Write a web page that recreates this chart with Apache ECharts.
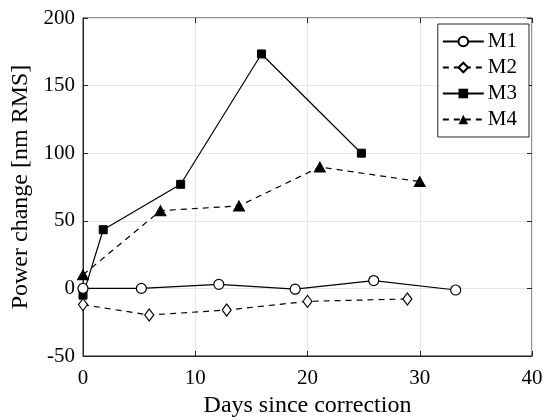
<!DOCTYPE html>
<html>
<head>
<meta charset="utf-8">
<script src="https://cdn.jsdelivr.net/npm/echarts@6/dist/echarts.min.js"></script>
<style>
  html, body { margin: 0; padding: 0; background: #fff; }
  #chart { width: 545px; height: 420px; }
</style>
</head>
<body>
<div id="chart"></div>
<script>
// 读图得到的数据 (days, nm RMS)
const m1Days = [0, 5.2, 12.1, 18.9, 25.9, 33.2];
const m1Vals = [0, 0, 3, -0.6, 5.8, -1.2];
const m2Days = [0, 5.9, 12.8, 20.0, 28.9];
const m2Vals = [-12, -19.7, -16, -9.6, -7.8];
const m3Days = [0, 1.8, 8.7, 15.9, 24.8];
const m3Vals = [-5, 43.4, 77, 173.4, 100];
const m4Days = [0, 6.9, 13.9, 21.1, 30.0];
const m4Vals = [10, 57.5, 61, 89.8, 79];

const xTicks = [0, 10, 20, 30, 40];
const yTicks = [-50, 0, 50, 100, 150, 200];

const FONT = 'Liberation Serif';
const INK = '#000';
const AXIS = '#262626';

function pairs(xs, ys) {
  return xs.map((x, i) => [x, ys[i]]);
}

const chart = echarts.init(document.getElementById('chart'));

// 通用坐标轴样式
const tickStyle = { show: true, inside: true, length: 5, lineStyle: { color: AXIS, width: 1 } };

const option = {
  animation: false,
  backgroundColor: '#fff',
  textStyle: { fontFamily: FONT },
  grid: {
    left: 83,
    right: 13,
    top: 18,
    bottom: 64,
    outerBoundsMode: 'none',
    show: true,
    borderColor: AXIS,
    borderWidth: 1,
    backgroundColor: '#fff',
  },
  legend: {
    right: 16,
    top: 24,
    orient: 'vertical',
    backgroundColor: '#fff',
    borderColor: AXIS,
    borderWidth: 1,
    borderRadius: 0,
    padding: [7, 12, 7, 4],
    itemGap: 5,
    itemWidth: 41,
    itemHeight: 12,
    textStyle: { fontFamily: FONT, fontSize: 21, color: INK, lineHeight: 21, padding: [0, 0, 0, -1] },
    data: ['M1', 'M2', 'M3', 'M4'],
  },
  xAxis: [
    {
      type: 'value',
      min: xTicks[0],
      max: xTicks[xTicks.length - 1],
      interval: 10,
      name: 'Days since correction',
      nameLocation: 'middle',
      nameGap: 37,
      nameTextStyle: { fontFamily: FONT, fontSize: 24, color: INK },
      axisLine: { show: true, onZero: false, lineStyle: { color: AXIS } },
      axisTick: tickStyle,
      axisLabel: { fontFamily: FONT, fontSize: 21, color: INK, margin: 12 },
      splitLine: { show: true, lineStyle: { color: '#e6e6e6', width: 1 } },
    },
    {
      type: 'value',
      position: 'top',
      min: xTicks[0],
      max: xTicks[xTicks.length - 1],
      interval: 10,
      axisLine: { show: false, onZero: false },
      axisTick: tickStyle,
      axisLabel: { show: false },
      splitLine: { show: false },
    },
  ],
  yAxis: [
    {
      type: 'value',
      min: yTicks[0],
      max: yTicks[yTicks.length - 1],
      interval: 50,
      name: 'Power change [nm RMS]',
      nameLocation: 'middle',
      nameGap: 47,
      nameTextStyle: { fontFamily: FONT, fontSize: 24, color: INK },
      axisLine: { show: true, onZero: false, lineStyle: { color: AXIS } },
      axisTick: tickStyle,
      axisLabel: { fontFamily: FONT, fontSize: 21, color: INK, margin: 8 },
      splitLine: { show: true, lineStyle: { color: '#e6e6e6', width: 1 } },
    },
    {
      type: 'value',
      position: 'right',
      min: yTicks[0],
      max: yTicks[yTicks.length - 1],
      interval: 50,
      axisLine: { show: false, onZero: false },
      axisTick: tickStyle,
      axisLabel: { show: false },
      splitLine: { show: false },
    },
  ],
  series: [
    {
      name: 'M1',
      type: 'line',
      data: pairs(m1Days, m1Vals),
      symbol: 'circle',
      symbolSize: 10,
      lineStyle: { color: INK, width: 1.2, type: 'solid' },
      itemStyle: { color: '#fff', borderColor: INK, borderWidth: 1.2 },
      z: 4,
    },
    {
      name: 'M2',
      type: 'line',
      data: pairs(m2Days, m2Vals),
      symbol: 'diamond',
      symbolSize: [9, 12],
      lineStyle: { color: INK, width: 1.2, type: [6, 5] },
      itemStyle: { color: '#fff', borderColor: INK, borderWidth: 1.2 },
      z: 3,
    },
    {
      name: 'M3',
      type: 'line',
      data: pairs(m3Days, m3Vals),
      symbol: 'rect',
      symbolSize: 8,
      lineStyle: { color: INK, width: 1.2, type: 'solid' },
      itemStyle: { color: INK, borderColor: INK },
      z: 2,
    },
    {
      name: 'M4',
      type: 'line',
      data: pairs(m4Days, m4Vals),
      symbol: 'triangle',
      symbolSize: [11, 10],
      lineStyle: { color: INK, width: 1.2, type: [6, 5] },
      itemStyle: { color: INK, borderColor: INK },
      z: 2,
    },
  ],
};

chart.setOption(option);
</script>
</body>
</html>
